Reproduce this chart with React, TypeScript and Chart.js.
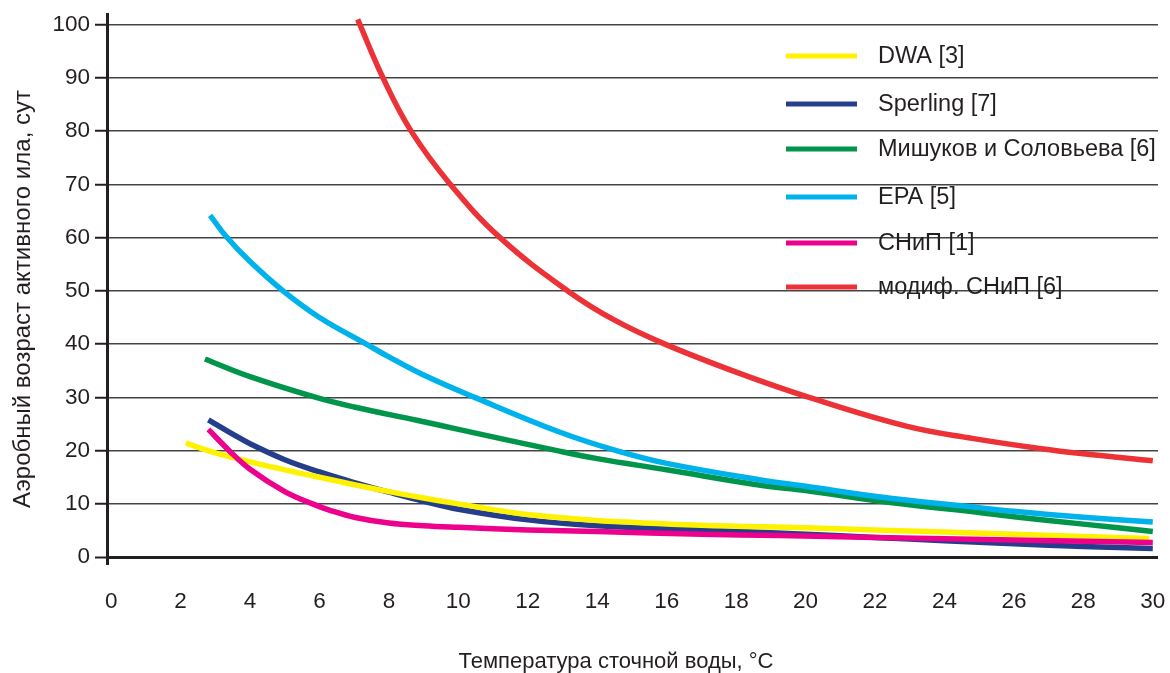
import React, { useEffect, useRef } from "react";
import { Chart, registerables } from "chart.js";

Chart.register(...registerables);

const xTickValues = [0, 2, 4, 6, 8, 10, 12, 14, 16, 18, 20, 22, 24, 26, 28, 30];
const yTickValues = [0, 10, 20, 30, 40, 50, 60, 70, 80, 90, 100];

const seriesNames = [
  "DWA [3]",
  "Sperling [7]",
  "Мишуков и Соловьева [6]",
  "EPA [5]",
  "СНиП [1]",
  "модиф. СНиП [6]",
];
const seriesColors = ["#FFF200", "#253E8C", "#00954A", "#00B2EB", "#EC008C", "#EC3237"];

const dwaT = [2.15, 3, 4, 5, 6, 7, 8, 9, 10, 12, 14, 17, 20, 24, 28, 29.9];
const dwaAge = [21.4, 19.6, 17.9, 16.4, 15.0, 13.6, 12.3, 11.1, 10.0, 8.0, 6.9, 6.0, 5.5, 4.7, 3.9, 3.5];

const sperlingT = [2.8, 3.5, 4, 5, 6, 7, 8, 9, 10, 12, 14, 17, 20, 22, 24, 26, 28, 30];
const sperlingAge = [25.8, 23.1, 21.3, 18.3, 16.0, 14.0, 12.2, 10.5, 9.0, 7.0, 5.9, 5.1, 4.3, 3.7, 3.1, 2.5, 2.0, 1.6];

const mishukovT = [2.7, 4, 5.9, 7, 8.8, 10, 12.91, 14, 16, 18.7, 20, 22.5, 25, 26, 28, 30];
const mishukovAge = [37.2, 33.9, 30.0, 28.2, 25.7, 24.0, 19.9, 18.5, 16.4, 13.5, 12.5, 10.2, 8.4, 7.6, 6.2, 4.8];

const epaT = [2.85, 3.3, 4, 4.95, 6, 7.35, 8, 9, 10.47, 12.91, 14.55, 16, 18.7, 20, 22.5, 25, 26, 28, 30];
const epaAge = [64.2, 60.3, 55.5, 50.0, 45.0, 40.0, 37.6, 34.2, 30.0, 23.5, 20.0, 17.6, 14.5, 13.3, 11.0, 9.3, 8.6, 7.5, 6.6];

const snipT = [2.8, 3.4, 4, 5, 5.8, 6.3, 7, 8, 9, 10, 12, 14, 17, 19.25, 22, 26, 30];
const snipAge = [24.0, 20.0, 16.5, 12.3, 10.0, 8.8, 7.5, 6.4, 5.9, 5.6, 5.1, 4.8, 4.3, 4.05, 3.7, 3.2, 2.75];

const modSnipT = [7.1, 7.83, 8.64, 9.77, 11.2, 13.15, 14.5, 15.95, 18.1, 20.1, 22.9, 24.8, 26.74, 28, 30];
const modSnipAge = [101, 90, 80, 70, 60, 50, 44.5, 40, 34.5, 30, 24.6, 22.3, 20.4, 19.4, 18.1];

const seriesT = [dwaT, sperlingT, mishukovT, epaT, snipT, modSnipT];
const seriesAge = [dwaAge, sperlingAge, mishukovAge, epaAge, snipAge, modSnipAge];
const drawOrder = [5, 6, 3, 2, 4, 1];

const xTitle = "Температура сточной воды, °С";
const yTitle = "Аэробный возраст активного ила, сут";

const FONT = "'Liberation Sans', Arial, sans-serif";
const TEXT = "#231f20";

const legendRowsY = [56, 104, 149, 197, 243, 287];

const overlayPlugin = {
  id: "overlay",
  afterDraw(chart: any) {
    const ctx = chart.ctx;
    ctx.save();
    chart.data.datasets.forEach((ds: any, i: number) => {
      const y = legendRowsY[i];
      ctx.strokeStyle = ds.borderColor;
      ctx.lineWidth = 5;
      ctx.lineCap = "butt";
      ctx.beginPath();
      ctx.moveTo(786, y);
      ctx.lineTo(857, y);
      ctx.stroke();
      ctx.fillStyle = TEXT;
      ctx.font = `23.5px ${FONT}`;
      ctx.textAlign = "left";
      ctx.textBaseline = "middle";
      ctx.fillText(ds.label, 878, y + 1);
    });
    ctx.fillStyle = TEXT;
    ctx.font = `22px ${FONT}`;
    ctx.textAlign = "center";
    ctx.textBaseline = "middle";
    ctx.fillText(xTitle, 616, 662);
    ctx.translate(23, 299);
    ctx.rotate(-Math.PI / 2);
    ctx.font = `24px ${FONT}`;
    ctx.fillText(yTitle, 0, 0);
    ctx.restore();
  },
};

export default function App() {
  const ref = useRef<HTMLCanvasElement | null>(null);
  useEffect(() => {
    document.body.style.margin = "0";
    const canvas = ref.current;
    if (!canvas) return;
    const datasets = seriesNames.map((name, i) => ({
      label: name,
      data: seriesT[i].map((t, j) => ({ x: t, y: seriesAge[i][j] })),
      borderColor: seriesColors[i],
      backgroundColor: seriesColors[i],
      borderWidth: 5.5,
      pointRadius: 0,
      tension: 0.4,
      fill: false,
      order: drawOrder[i],
      borderCapStyle: "butt" as const,
    }));
    const chart = new Chart(canvas, {
      type: "line",
      data: { datasets },
      options: {
        animation: false,
        responsive: false,
        devicePixelRatio: 1,
        layout: { padding: { left: 0, right: 12, top: 14, bottom: 0 } },
        plugins: {
          legend: { display: false },
          tooltip: { enabled: false },
          title: { display: false },
        },
        scales: {
          x: {
            type: "linear",
            min: -0.12,
            max: 30.15,
            afterBuildTicks: (scale: any) => {
              scale.ticks = xTickValues.map((v) => ({ value: v }));
            },
            afterFit: (scale: any) => {
              scale.height = 110;
              scale.paddingLeft = 0;
              scale.paddingRight = 0;
            },
            grid: { display: false, drawTicks: false },
            border: { display: false },
            ticks: {
              autoSkip: false,
              maxRotation: 0,
              padding: 25,
              color: TEXT,
              font: { family: FONT, size: 22.5 },
              callback: (v: any) => String(v),
            },
          },
          y: {
            type: "linear",
            min: -1.1,
            max: 102,
            afterBuildTicks: (scale: any) => {
              scale.ticks = yTickValues.map((v) => ({ value: v }));
            },
            afterFit: (scale: any) => {
              scale.width = 107;
              scale.paddingTop = 0;
              scale.paddingBottom = 0;
            },
            grid: {
              color: (c: any) => (c.tick && c.tick.value === 0 ? "#231f20" : "#444444"),
              lineWidth: (c: any) => (c.tick && c.tick.value === 0 ? 3 : 1.5),
              drawTicks: true,
              tickLength: 12,
              tickColor: "#231f20",
              tickWidth: 2,
            },
            border: { display: true, color: "#231f20", width: 3 },
            ticks: {
              padding: 5,
              color: TEXT,
              font: { family: FONT, size: 22.5 },
              callback: (v: any) => String(v),
            },
          },
        },
      },
      plugins: [overlayPlugin],
    });
    return () => chart.destroy();
  }, []);
  return <canvas ref={ref} width={1170} height={673} style={{ display: "block" }} />;
}
